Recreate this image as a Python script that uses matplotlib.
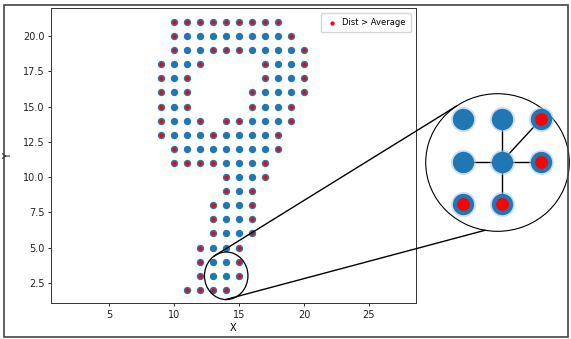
import matplotlib
matplotlib.use('Agg')
import matplotlib.pyplot as plt
from matplotlib.patches import Ellipse, Rectangle
from matplotlib.lines import Line2D
import numpy as np

# Grid points, one row per y value
row_y = [21, 20, 19, 18, 17, 16, 15, 14, 13, 12, 11, 10, 9, 8, 7, 6, 5, 4, 3, 2]
row_x = [
    [10, 11, 12, 13, 14, 15, 16, 17, 18],
    [10, 11, 12, 13, 14, 15, 16, 17, 18, 19],
    [10, 11, 12, 13, 14, 15, 16, 17, 18, 19, 20],
    [9, 10, 11, 12, 17, 18, 19, 20],
    [9, 10, 11, 17, 18, 19, 20],
    [9, 10, 11, 16, 17, 18, 19, 20],
    [9, 10, 11, 16, 17, 18, 19],
    [9, 10, 11, 12, 14, 15, 16, 17, 18, 19],
    [9, 10, 11, 12, 13, 14, 15, 16, 17, 18],
    [10, 11, 12, 13, 14, 15, 16, 17, 18],
    [10, 11, 12, 13, 14, 15, 16, 17],
    [14, 15, 16, 17],
    [14, 15, 16],
    [13, 14, 15, 16],
    [13, 14, 15, 16],
    [13, 14, 15, 16],
    [12, 13, 14, 15],
    [12, 13, 14, 15],
    [12, 13, 14, 15],
    [11, 12, 13, 14],
]
# points whose distance is above average
red_x = [
    [10, 11, 12, 13, 14, 15, 16, 17, 18],
    [10, 19],
    [10, 13, 14, 15, 20],
    [9, 12, 17, 20],
    [9, 11, 17, 20],
    [9, 11, 16, 20],
    [9, 11, 16, 19],
    [9, 12, 14, 15, 19],
    [9, 13, 18],
    [10, 18],
    [10, 11, 12, 13, 17],
    [14, 17],
    [14, 16],
    [13, 16],
    [13, 16],
    [13, 16],
    [12, 15],
    [12, 15],
    [12, 15],
    [11, 12, 13, 14],
]

# zoomed neighbourhood
focus = (14, 3)
edges = [(14, 4), (13, 3), (15, 3), (14, 2), (15, 4)]

xs = np.array([x for y, row in zip(row_y, row_x) for x in row])
ys = np.array([y for y, row in zip(row_y, row_x) for x in row])
rx = np.array([x for y, row in zip(row_y, red_x) for x in row])
ry = np.array([y for y, row in zip(row_y, red_x) for x in row])

fs = 7
blue = '#1f77b4'

fig = plt.figure(figsize=(5.71, 3.39), dpi=100)
ax = fig.add_axes([0.0893, 0.1053, 0.6387, 0.8697])

ax.scatter(xs, ys, s=28, c=blue, linewidths=0, zorder=2)
ax.scatter(rx, ry, s=9.5, c='red', linewidths=0, zorder=3, label='Dist > Average')

ax.set_xlim(0.5, 28.6)
ax.set_ylim(1.05, 21.95)
ax.set_xticks([5, 10, 15, 20, 25])
ax.set_yticks([2.5, 5, 7.5, 10, 12.5, 15, 17.5, 20])
ax.tick_params(labelsize=fs, length=2.5, width=0.6, pad=2, labelcolor='#222222')
for sp in ax.spines.values():
    sp.set_linewidth(0.7)
    sp.set_color('#333333')
ax.set_xlabel('X', fontsize=fs)
ax.set_ylabel('Y', fontsize=fs)
ax.xaxis.set_label_coords(0.5, -0.068)
ax.yaxis.set_label_coords(-0.105, 0.5)
ax.legend(loc='upper right', fontsize=6, borderpad=0.6, handlelength=1.6,
          handletextpad=0.4, borderaxespad=0.6)

# small circle around the focus point
ax.add_patch(Ellipse(focus, 3.35, 3.37, fill=False, lw=0.9, ec='black', zorder=4))

# zoom bubble
ins = fig.add_axes([0.7443, 0.3156, 0.254, 0.41])
ins.set_xlim(-1.957, 1.743)
ins.set_ylim(-1.654, 1.616)
ins.axis('off')
ins.add_patch(Ellipse((0.5, 0.5), 0.99, 0.99, transform=ins.transAxes,
                      fill=False, lw=0.8, ec='black', clip_on=False))

fx, fy = focus
for ex, ey in edges:
    ins.plot([0, ex - fx], [0, ey - fy], color='black', lw=1.0, zorder=1)

pts = set(zip(xs.tolist(), ys.tolist()))
reds = set(zip(rx.tolist(), ry.tolist()))
for dx in (-1, 0, 1):
    for dy in (-1, 0, 1):
        p = (fx + dx, fy + dy)
        if p not in pts:
            continue
        ins.scatter(dx, dy, s=320, c='#9ec3e6', alpha=0.55, linewidths=0, zorder=2)
        ins.scatter(dx, dy, s=235, c=blue, linewidths=0, zorder=3)
        if p in reds:
            ins.scatter(dx, dy, s=85, c='red', linewidths=0, zorder=4)

# connector lines between the two circles (display pixels)
sc = ax.transData.transform(focus)
srx, sry = 21.7, 23.8
bc = ins.transAxes.transform((0.5, 0.5))
bb = ins.get_window_extent()
brx, bry = bb.width * 0.495, bb.height * 0.495
for a_small, a_big in [(125, 125), (268, 260)]:
    p1 = sc + [srx * np.cos(np.radians(a_small)), sry * np.sin(np.radians(a_small))]
    p2 = bc + [brx * np.cos(np.radians(a_big)), bry * np.sin(np.radians(a_big))]
    q = fig.transFigure.inverted().transform([p1, p2])
    fig.add_artist(Line2D(q[:, 0], q[:, 1], color='black', lw=1.0))

# outer frame
fig.add_artist(Rectangle((4 / 571, 2 / 339), 564 / 571, 332 / 339, transform=fig.transFigure,
                         fill=False, lw=1.2, ec='#444444'))

fig.savefig('out.png', dpi=100)
